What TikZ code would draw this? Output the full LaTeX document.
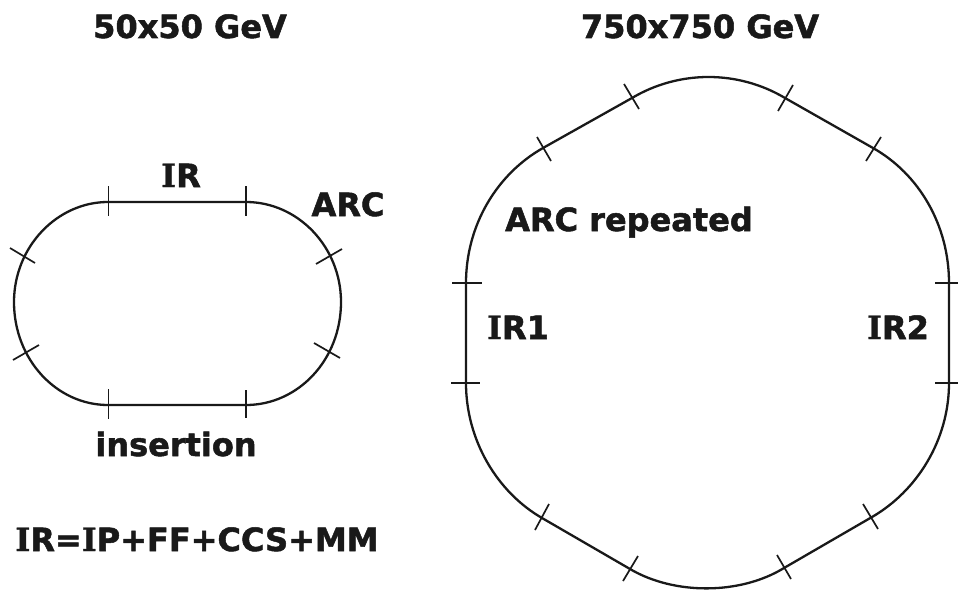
\documentclass[tikz,border=0pt]{standalone}
\usepackage{fontspec}
\setmainfont{DejaVu Sans}[BoldFeatures={FakeBold=1.6}]
\newfontfamily\slabfont{DejaVu Serif}[BoldFeatures={FakeBold=1}]
\newcommand\slabI{{\slabfont I}}
\tikzset{
  beam/.style={line width=2.3pt,color=black!90,line cap=round},
  tick/.style={line width=1.7pt,color=black!90},
  lab/.style={font=\bfseries\fontsize{32}{36}\selectfont,inner sep=0pt,text=black!90,anchor=base}
}
\begin{document}
\begin{tikzpicture}[x=1pt,y=-1pt]
\useasboundingbox (0,0) rectangle (958,591);
% left ring
\draw[beam] (108,202) -- (246,202)
  .. controls (298,202) and (341,247) .. (341,302)
  .. controls (341,360) and (298,405) .. (246,405)
  -- (108,405)
  .. controls (57,405) and (14,360) .. (14,302)
  .. controls (14,247) and (57,202) .. (108,202) -- cycle;
\foreach \xa/\ya/\xb/\yb in {108.5/186/108.5/216, 246/186/246/216, 108.5/389/108.5/419, 246/390/246/418,
  10/248/35/263, 13/360/39/345, 316/264/342/249, 314/343/340/358}
  {\draw[tick] (\xa,\ya) -- (\xb,\yb);}
% right ring
\draw[beam] (466,283) -- (466,383)
  .. controls (466,440) and (497,492) .. (542,518)
  -- (630,569)
  .. controls (674,595) and (740,595) .. (784,568)
  -- (872,517)
  .. controls (917,491) and (949,440) .. (949,383)
  -- (949,283)
  .. controls (949,225) and (919,174) .. (873,148)
  -- (785,98)
  .. controls (738,70) and (679,70) .. (632,98)
  -- (543,148)
  .. controls (497,174) and (466,225) .. (466,283) -- cycle;
\foreach \xa/\ya/\xb/\yb in {452/283/482/283, 451/383/480/383, 935/283/958/283, 935/383/958/383,
  537/137/551/161, 624/84/639/109, 778/111/793/85, 866/161/881/137,
  535/530/549/504, 623/581/638/556, 777/555/791/579, 863/504/878/529}
  {\draw[tick] (\xa,\ya) -- (\xb,\yb);}
% labels
\node[lab] (t1) at (190,38) {50x50 GeV};
\node[lab] (t2) at (700,38) {750x750 GeV};
\node[lab] (ir) at (181,187) {\slabI R};
\node[lab] (arc) at (348,216) {ARC};
\node[lab] (arcr) at (629,231) {ARC repeated};
\node[lab] (ir1) at (518,339) {\slabI R1};
\node[lab] (ir2) at (898,339) {\slabI R2};
\node[lab] (ins) at (176,456) {insertion};
\node[lab] (eq) at (197,551) {\slabI R=\slabI P+FF+CCS+MM};
\end{tikzpicture}
\end{document}
